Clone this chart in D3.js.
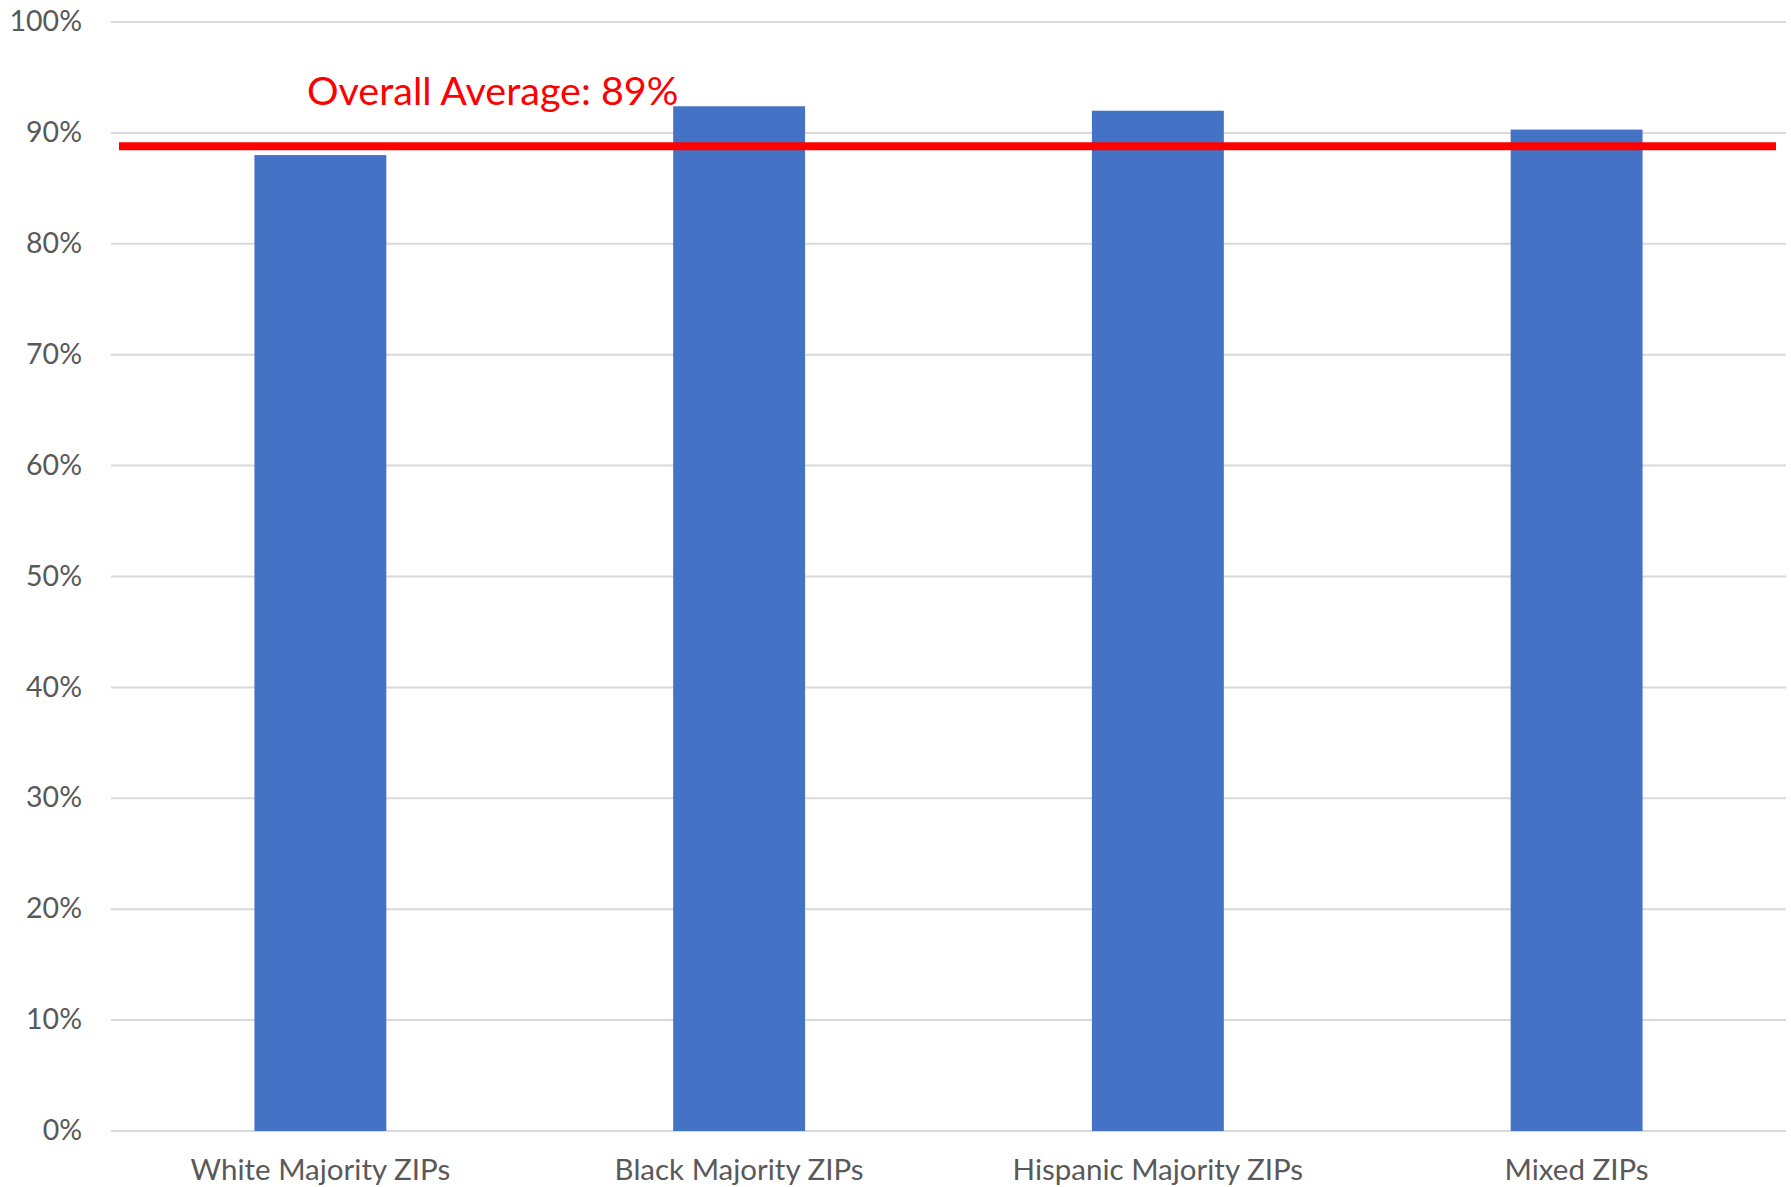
<!DOCTYPE html>
<html>
<head>
<meta charset="utf-8">
<script src="https://cdn.jsdelivr.net/npm/d3@7"></script>
<style>
  html, body { margin: 0; padding: 0; background: #ffffff; }
  svg { display: block; }
</style>
</head>
<body>
<svg id="chart" width="1791" height="1187"></svg>
<script>
// Share of ZIPs by majority group, with the overall average line
const categories = ["White Majority ZIPs", "Black Majority ZIPs", "Hispanic Majority ZIPs", "Mixed ZIPs"];
const values = [0.880, 0.924, 0.920, 0.903];
const overallAverage = 0.888;
const yTicks = [0, 0.1, 0.2, 0.3, 0.4, 0.5, 0.6, 0.7, 0.8, 0.9, 1.0];

const W = 1791, H = 1187;
const margin = { top: 22, right: 5, bottom: 56, left: 111 };

const svg = d3.select("#chart");
const font = "Lato, 'Open Sans', sans-serif";
const labelColor = "#595959";

const x = d3.scaleBand()
  .domain(categories)
  .range([margin.left, W - margin.right])
  .paddingInner(0.685)
  .paddingOuter(0.3425);

const y = d3.scaleLinear()
  .domain([0, 1])
  .range([H - margin.bottom, margin.top]);

const pct = d3.format(".0%");

// Horizontal gridlines
svg.append("g")
  .selectAll("line")
  .data(yTicks)
  .join("line")
  .attr("x1", margin.left)
  .attr("x2", W - margin.right)
  .attr("y1", d => y(d))
  .attr("y2", d => y(d))
  .attr("stroke", "#d9d9d9")
  .attr("stroke-width", 2);

// Y axis labels
svg.append("g")
  .selectAll("text")
  .data(yTicks)
  .join("text")
  .attr("x", 82)
  .attr("y", d => y(d))
  .attr("dy", "0.32em")
  .attr("text-anchor", "end")
  .attr("font-family", font)
  .attr("font-size", 28.5)
  .attr("fill", labelColor)
  .text(d => pct(d));

// Bars
svg.append("g")
  .selectAll("rect")
  .data(categories.map((c, i) => ({ c, v: values[i] })))
  .join("rect")
  .attr("x", d => x(d.c))
  .attr("width", x.bandwidth())
  .attr("y", d => y(d.v))
  .attr("height", d => y(0) - y(d.v))
  .attr("fill", "#4472c4");

// Category labels
svg.append("g")
  .selectAll("text")
  .data(categories)
  .join("text")
  .attr("x", d => x(d) + x.bandwidth() / 2)
  .attr("y", H - 7)
  .attr("text-anchor", "middle")
  .attr("font-family", font)
  .attr("font-size", 29.5)
  .attr("fill", labelColor)
  .text(d => d);

// Overall average line
const inset = 8;
svg.append("line")
  .attr("x1", margin.left + inset)
  .attr("x2", W - margin.right - 2 * inset + 6)
  .attr("y1", y(overallAverage))
  .attr("y2", y(overallAverage))
  .attr("stroke", "#ff0000")
  .attr("stroke-width", 8);

svg.append("text")
  .attr("x", 307)
  .attr("y", 105)
  .attr("font-family", font)
  .attr("font-size", 39.5)
  .attr("fill", "#ff0000")
  .text("Overall Average: " + pct(overallAverage));
</script>
</body>
</html>
